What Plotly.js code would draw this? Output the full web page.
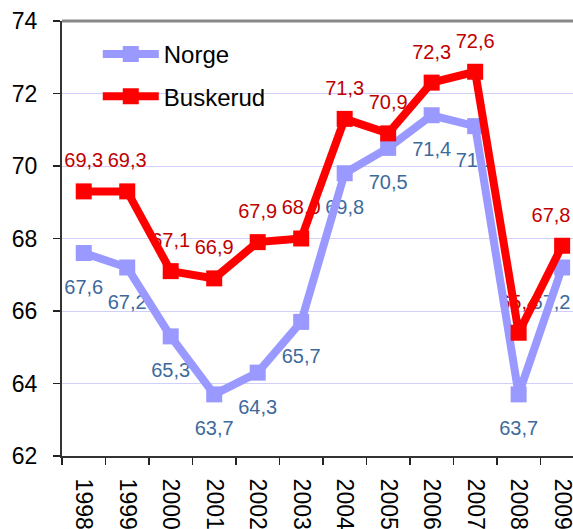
<!DOCTYPE html>
<html>
<head>
<meta charset="utf-8">
<script src="https://cdn.plot.ly/plotly-3.0.1.min.js"></script>
<style>html,body{margin:0;padding:0;background:#fff;}#chart{width:573px;height:529px;}</style>
</head>
<body>
<div id="chart"></div>
<script>
const years = ["1998","1999","2000","2001","2002","2003","2004","2005","2006","2007","2008","2009"];
const norge = [67.6, 67.2, 65.3, 63.7, 64.3, 65.7, 69.8, 70.5, 71.4, 71.1, 63.7, 67.2];
const buskerud = [69.3, 69.3, 67.1, 66.9, 67.9, 68.0, 71.3, 70.9, 72.3, 72.6, 65.4, 67.8];
const yTicks = [62, 64, 66, 68, 70, 72, 74];

// label text; the last label is nudged left (non-breaking spaces) so it stays inside the chart, as in the original
const fmt = (v, i, arr) => v.toFixed(1).replace('.', ',') + (i === arr.length - 1 ? '\u00a0\u00a0\u00a0\u00a0' : '');
const FONT = "Liberation Sans, Arial, sans-serif";

const traces = [
  // data labels first so the lines are drawn over them (invisible markers give the label offset)
  {x: years, y: norge, text: norge.map(fmt), type: "scatter", mode: "markers+text", showlegend: false,
   textposition: "bottom center", cliponaxis: false, hoverinfo: "skip",
   marker: {size: 40, opacity: 0, color: "#fff"},
   textfont: {family: FONT, size: 20, color: "#3D6A9B"}},
  {x: years, y: buskerud, text: buskerud.map(fmt), type: "scatter", mode: "markers+text", showlegend: false,
   textposition: "top center", cliponaxis: false, hoverinfo: "skip",
   marker: {size: 29, opacity: 0, color: "#fff"},
   textfont: {family: FONT, size: 20, color: "#C00000"}},
  {x: years, y: norge, name: "Norge", legendgroup: "a", type: "scatter", mode: "lines+markers",
   line: {color: "#9999FF", width: 8}, marker: {symbol: "square", size: 16, color: "#9999FF"}},
  {x: years, y: buskerud, name: "Buskerud", legendgroup: "b", type: "scatter", mode: "lines+markers",
   line: {color: "#FF0000", width: 8}, marker: {symbol: "square", size: 16, color: "#FF0000"}}
];

const layout = {
  width: 573, height: 529,
  margin: {l: 62, r: 0, t: 21, b: 73},
  paper_bgcolor: "#ffffff", plot_bgcolor: "#ffffff",
  font: {family: FONT, color: "#000"},
  showlegend: true,
  legend: {x: 0.07, y: 0.975, xanchor: "left", yanchor: "top", bgcolor: "rgba(0,0,0,0)",
    font: {family: FONT, size: 24, color: "#000"}, traceorder: "grouped", tracegroupgap: 8, itemwidth: 56},
  xaxis: {type: "category", categoryorder: "array", categoryarray: years,
    range: [-0.5, 11.25], tickson: "boundaries", ticks: "outside", ticklen: 7, tickwidth: 1.5, tickcolor: "#222",
    tickangle: 90, ticklabelstandoff: 16, tickfont: {family: FONT, size: 23, color: "#000"},
    showline: true, linecolor: "#333", linewidth: 2, showgrid: false, zeroline: false, fixedrange: true},
  yaxis: {range: [62, 74], tickvals: yTicks, ticktext: yTicks.map(String),
    ticks: "outside", ticklen: 7, tickwidth: 1.5, tickcolor: "#222", ticklabelstandoff: 11,
    tickfont: {family: FONT, size: 23, color: "#000"},
    showline: true, linecolor: "#333", linewidth: 2,
    showgrid: true, gridcolor: "#CFCFFA", gridwidth: 1, zeroline: false, fixedrange: true},
  shapes: [{type: "line", xref: "paper", yref: "paper", x0: 0, x1: 1, y0: 1, y1: 1,
    line: {color: "#888", width: 3}}]
};

Plotly.newPlot("chart", traces, layout, {displayModeBar: false, staticPlot: true});
</script>
</body>
</html>
